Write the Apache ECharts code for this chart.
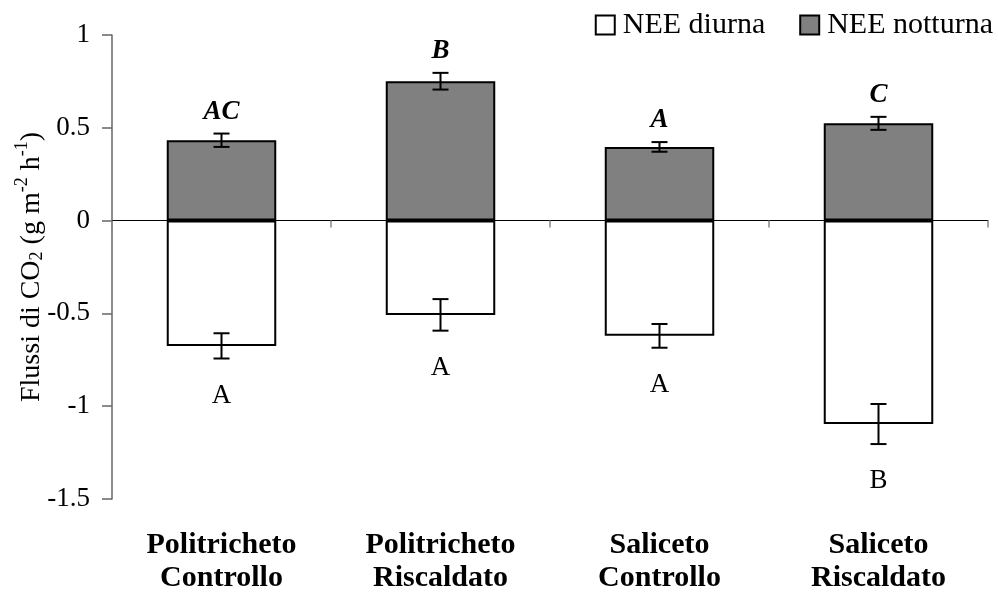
<!DOCTYPE html>
<html>
<head>
<meta charset="utf-8">
<script src="https://cdn.jsdelivr.net/npm/echarts@6/dist/echarts.min.js"></script>
<style>
  html, body { margin: 0; padding: 0; background: #fff; }
  #chart { width: 998px; height: 592px; }
</style>
</head>
<body>
<div id="chart"></div>
<script>
// CO2 fluxes per site/treatment: night (positive) and day (negative) NEE
const categories = ['Politricheto\nControllo', 'Politricheto\nRiscaldato', 'Saliceto\nControllo', 'Saliceto\nRiscaldato'];
const nightValues = [0.433, 0.751, 0.397, 0.524];
const nightErrors = [0.036, 0.045, 0.026, 0.035];
const nightLetters = ['AC', 'B', 'A', 'C'];
const dayValues = [-0.675, -0.508, -0.621, -1.096];
const dayErrors = [0.068, 0.085, 0.064, 0.108];
const dayLetters = ['A', 'A', 'A', 'B'];
const yTicks = { min: -1.5, max: 1, interval: 0.5 };

const FONT = 'Liberation Serif';

function errorBarSeries(values, errors, letters, above) {
  return {
    type: 'custom',
    xAxisIndex: 0,
    z: 5,
    silent: true,
    encode: { x: 0, y: 1 },
    data: values.map((v, i) => [i, v, errors[i]]),
    renderItem: function (params, api) {
      const idx = api.value(0);
      const v = api.value(1);
      const e = api.value(2);
      const hi = api.coord([idx, v + e]);
      const lo = api.coord([idx, v - e]);
      const x = hi[0];
      const cap = 8;
      const lineStyle = { stroke: '#000', lineWidth: 2 };
      const letterY = above ? hi[1] - 22 : lo[1] + 37;
      return {
        type: 'group',
        children: [
          { type: 'line', shape: { x1: x, y1: hi[1], x2: x, y2: lo[1] }, style: lineStyle },
          { type: 'line', shape: { x1: x - cap, y1: hi[1], x2: x + cap, y2: hi[1] }, style: lineStyle },
          { type: 'line', shape: { x1: x - cap, y1: lo[1], x2: x + cap, y2: lo[1] }, style: lineStyle },
          {
            type: 'text',
            style: {
              x: x, y: letterY,
              text: letters[params.dataIndex],
              fill: '#000',
              font: (above ? 'italic bold ' : '') + '27px "Liberation Serif"',
              align: 'center',
              verticalAlign: 'middle'
            }
          }
        ]
      };
    }
  };
}

const chart = echarts.init(document.getElementById('chart'), null, { renderer: 'canvas' });

chart.setOption({
  animation: false,
  backgroundColor: '#fff',
  textStyle: { fontFamily: FONT, color: '#000' },
  grid: { left: 112, right: 10, top: 35, bottom: 93, containLabel: false, outerBoundsMode: 'none' },
  legend: {
    data: ['NEE diurna', 'NEE notturna'],
    right: 0,
    top: 5,
    itemWidth: 19,
    itemHeight: 19,
    itemGap: 34,
    icon: 'rect',
    textStyle: { fontFamily: FONT, fontSize: 30, color: '#000', padding: [0, 0, 0, 3] }
  },
  xAxis: [
    {
      type: 'category',
      data: categories,
      position: 'bottom',
      axisLine: { onZero: true, lineStyle: { color: '#000', width: 1 } },
      axisTick: { show: true, length: 7, lineStyle: { color: '#888', width: 1.5 } },
      axisLabel: { show: false },
      splitLine: { show: false }
    },
    {
      type: 'category',
      data: categories,
      position: 'bottom',
      axisLine: { show: false, onZero: false },
      axisTick: { show: false },
      axisLabel: {
        show: true,
        margin: 30,
        fontFamily: FONT,
        fontSize: 30,
        fontWeight: 'bold',
        lineHeight: 33,
        color: '#000'
      }
    }
  ],
  yAxis: {
    type: 'value',
    min: yTicks.min,
    max: yTicks.max,
    interval: yTicks.interval,
    axisLine: { show: true, lineStyle: { color: '#666', width: 1.5 } },
    axisTick: { show: true, length: 10, lineStyle: { color: '#666', width: 1.5 } },
    splitLine: { show: false },
    axisLabel: { fontFamily: FONT, fontSize: 27, color: '#000', margin: 22 },
    name: '{n|Flussi di CO}{sub|2}{n| (g m}{sup|-2}{n| h}{sup|-1}{n|)}',
    nameLocation: 'middle',
    nameRotate: 90,
    nameGap: 61,
    nameMoveOverlap: false,
    nameTextStyle: {
      rich: {
        n: { fontFamily: FONT, fontSize: 28, color: '#000', lineHeight: 38 },
        sub: { fontFamily: FONT, fontSize: 18, color: '#000', verticalAlign: 'bottom', lineHeight: 18, padding: [0, 0, 5, 0] },
        sup: { fontFamily: FONT, fontSize: 18, color: '#000', verticalAlign: 'top', lineHeight: 18 }
      }
    }
  },
  series: [
    {
      name: 'NEE diurna',
      type: 'bar',
      stack: 'nee',
      barWidth: '50%',
      itemStyle: { color: '#fff', borderColor: '#000', borderWidth: 2 },
      data: dayValues
    },
    {
      name: 'NEE notturna',
      type: 'bar',
      stack: 'nee',
      barWidth: '50%',
      itemStyle: { color: '#808080', borderColor: '#000', borderWidth: 2 },
      data: nightValues
    },
    errorBarSeries(nightValues, nightErrors, nightLetters, true),
    errorBarSeries(dayValues, dayErrors, dayLetters, false)
  ]
});
</script>
</body>
</html>
